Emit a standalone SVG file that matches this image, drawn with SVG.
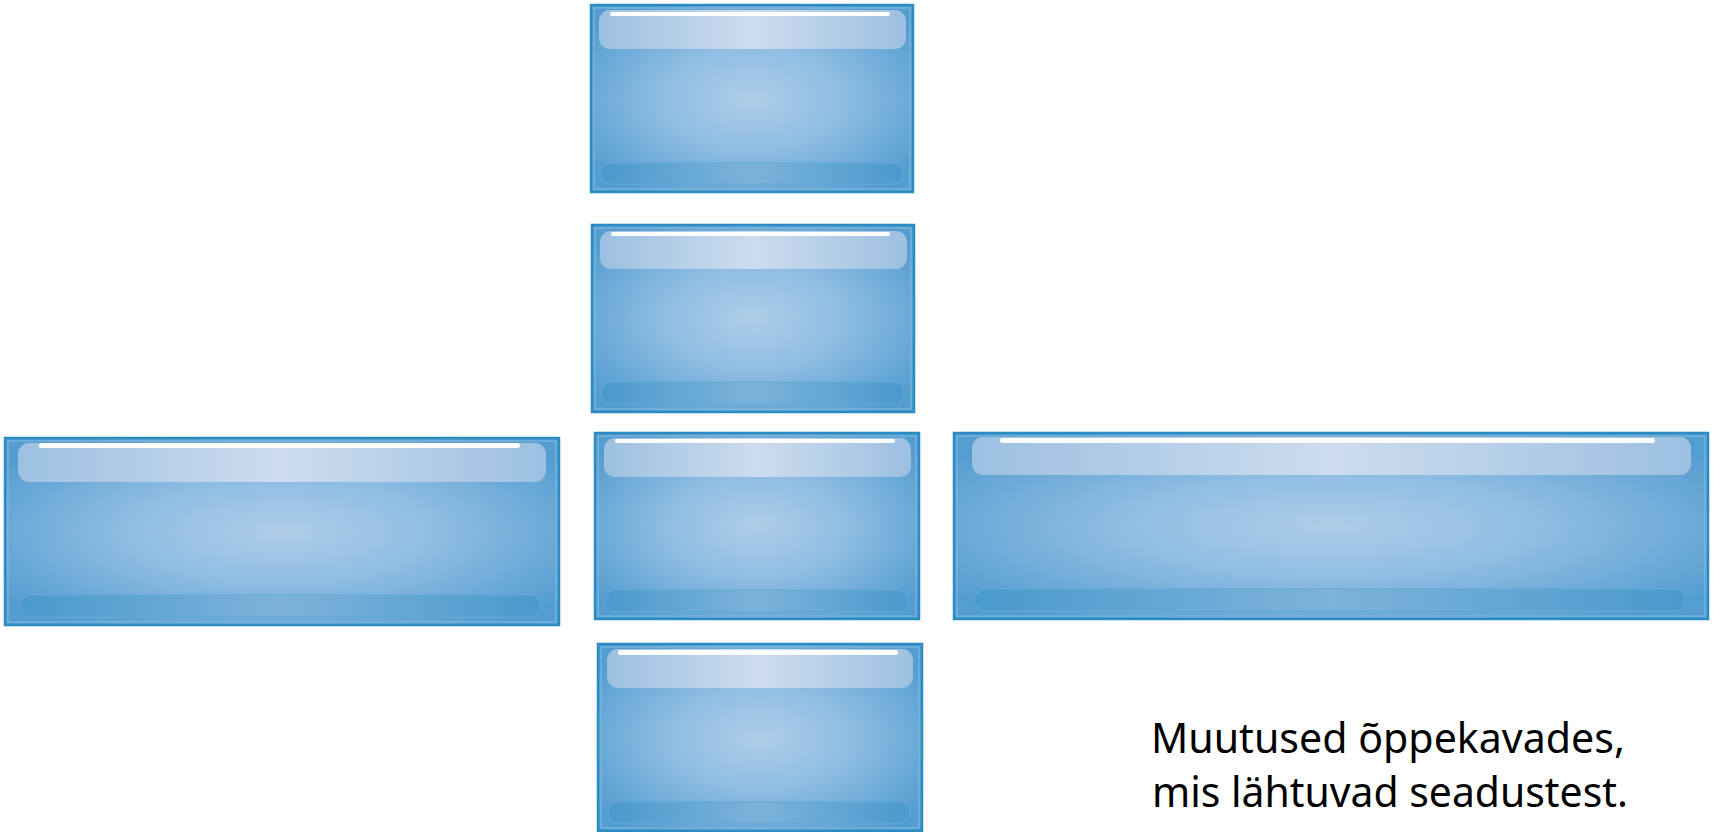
<svg xmlns="http://www.w3.org/2000/svg" width="1719" height="832" viewBox="0 0 1719 832">
<style>
.frame{fill:url(#body);stroke:#2a8cc2;stroke-width:2.5}
.inner{fill:none;stroke:#7db6de;stroke-width:1.2}
.hi{fill:url(#hiGrad)}
.line{fill:#ffffff}
.pill{fill:url(#pillGrad);stroke:#62a8d8;stroke-width:1}
.txt{font-family:"Noto Sans","Open Sans",sans-serif;font-size:42px;fill:#000}
</style>
<defs>
<radialGradient id="body" cx="0.5" cy="0.5" r="0.62">
<stop offset="0" stop-color="#aecde8"/>
<stop offset="0.45" stop-color="#8fbde2"/>
<stop offset="1" stop-color="#549dd0"/>
</radialGradient>
<linearGradient id="hiGrad" x1="0" y1="0" x2="1" y2="0">
<stop offset="0" stop-color="#9cc0e1"/>
<stop offset="0.5" stop-color="#cddcee"/>
<stop offset="1" stop-color="#9cc0e1"/>
</linearGradient>
<linearGradient id="pillGrad" x1="0" y1="0" x2="1" y2="0">
<stop offset="0" stop-color="#4a99cd"/>
<stop offset="0.5" stop-color="#7db3da"/>
<stop offset="1" stop-color="#4a99cd"/>
</linearGradient>
</defs>
<g id="box-top">
<rect class="frame" x="591" y="5" width="322" height="187"/>
<rect class="inner" x="594" y="8" width="316" height="181"/>
<rect class="hi" x="599" y="10" width="307" height="39" rx="11"/>
<rect class="line" x="610" y="12" width="280" height="4" rx="2"/>
<rect class="pill" x="600" y="163" width="303" height="21" rx="10.5"/>
</g>
<g id="box-second">
<rect class="frame" x="592" y="225" width="322" height="187"/>
<rect class="inner" x="595" y="228" width="316" height="181"/>
<rect class="hi" x="600" y="231" width="307" height="38" rx="11"/>
<rect class="line" x="611" y="232" width="279" height="4" rx="2"/>
<rect class="pill" x="601" y="382" width="303" height="22" rx="11"/>
</g>
<g id="box-left">
<rect class="frame" x="5" y="438" width="554" height="187"/>
<rect class="inner" x="8" y="441" width="548" height="181"/>
<rect class="hi" x="18" y="443" width="528" height="39" rx="11"/>
<rect class="line" x="39" y="443" width="481" height="5" rx="2.5"/>
<rect class="pill" x="20" y="595" width="521" height="22" rx="11"/>
</g>
<g id="box-center">
<rect class="frame" x="595" y="433" width="324" height="186"/>
<rect class="inner" x="598" y="436" width="318" height="180"/>
<rect class="hi" x="604" y="438" width="307" height="39" rx="11"/>
<rect class="line" x="615" y="439" width="280" height="4" rx="2"/>
<rect class="pill" x="605" y="590" width="303" height="22" rx="11"/>
</g>
<g id="box-right">
<rect class="frame" x="954" y="433" width="754" height="186"/>
<rect class="inner" x="957" y="436" width="748" height="180"/>
<rect class="hi" x="972" y="437" width="719" height="38" rx="11"/>
<rect class="line" x="1000" y="438" width="655" height="5" rx="2.5"/>
<rect class="pill" x="975" y="589" width="710" height="22" rx="11"/>
</g>
<g id="box-bottom">
<rect class="frame" x="598" y="644" width="324" height="187"/>
<rect class="inner" x="601" y="647" width="318" height="181"/>
<rect class="hi" x="607" y="649" width="306" height="39" rx="11"/>
<rect class="line" x="618" y="650" width="280" height="5" rx="2.5"/>
<rect class="pill" x="608" y="802" width="302" height="21" rx="10.5"/>
</g>
<g id="caption">
<text class="txt" x="1151" y="753" textLength="474" lengthAdjust="spacingAndGlyphs">Muutused õppekavades,</text>
<text class="txt" x="1152" y="807" textLength="476" lengthAdjust="spacingAndGlyphs">mis lähtuvad seadustest.</text>
</g>
<g id="connectors"/>
</svg>
